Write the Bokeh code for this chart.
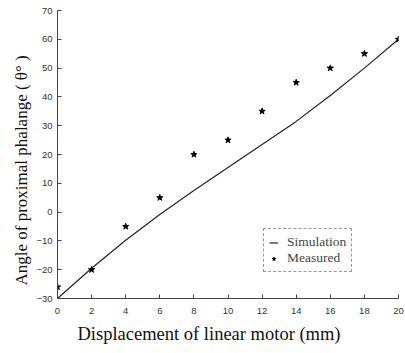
from bokeh.plotting import figure
from bokeh.models import Range1d, FixedTicker, Legend, LegendItem, ColumnDataSource, Title
from bokeh.embed import file_html
from bokeh.resources import INLINE

# Data
displacement = [0, 2, 4, 6, 8, 10, 12, 14, 16, 18, 20]
simulation = [-30, -19.5, -9.8, -0.8, 7.5, 15.5, 23.5, 31.5, 40.5, 50, 60]
measured = [-26, -20, -5, 5, 20, 25, 35, 45, 50, 55, 60]
x_ticks = [0, 2, 4, 6, 8, 10, 12, 14, 16, 18, 20]
y_ticks = [-30, -20, -10, 0, 10, 20, 30, 40, 50, 60, 70]
x_title = "Displacement of linear motor (mm)"
y_title = "Angle of proximal phalange ( θ° )"

src = ColumnDataSource(dict(x=displacement, sim=simulation, meas=measured))

p = figure(width=405, height=353, output_backend="svg", toolbar_location=None,
           x_range=Range1d(0, 20), y_range=Range1d(-30, 70),
           min_border_left=57, min_border_right=7, min_border_top=10, min_border_bottom=55)
p.outline_line_color = None
p.grid.visible = False
p.background_fill_color = "white"

r_sim = p.line("x", "sim", source=src, line_color="#222222", line_width=1.2)
r_meas = p.scatter("x", "meas", source=src, marker="star", size=6.5,
                   fill_color="black", line_color="black")

for ax in (p.xaxis[0], p.yaxis[0]):
    ax.axis_line_color = "#444444"
    ax.axis_line_width = 1
    ax.major_tick_in = 4
    ax.major_tick_out = 0
    ax.minor_tick_in = 0
    ax.minor_tick_out = 0
    ax.major_tick_line_color = "#444444"
    ax.major_label_text_font = "Liberation Sans"
    ax.major_label_text_font_size = "9.5px"
    ax.major_label_text_color = "#333333"
    ax.major_label_standoff = 5
p.xaxis.major_label_standoff = 9

p.xaxis.ticker = FixedTicker(ticks=x_ticks)
p.yaxis.ticker = FixedTicker(ticks=y_ticks)

# axis titles as side titles (so they can be offset like in the reference)
p.add_layout(Title(text=x_title, align="left", offset=20, standoff=10,
                   text_font="Liberation Serif", text_font_style="normal",
                   text_font_size="18.5px", text_color="#111111"), "below")
p.add_layout(Title(text=y_title, align="left", offset=13, standoff=6,
                   text_font="Liberation Serif", text_font_style="normal",
                   text_font_size="17px", text_color="#111111"), "left")

legend = Legend(items=[LegendItem(label="Simulation", renderers=[r_sim]),
                       LegendItem(label="Measured", renderers=[r_meas])],
                location=(206, 26))
legend.label_text_font = "Liberation Serif"
legend.label_text_font_size = "13.5px"
legend.label_height = 11
legend.glyph_height = 11
legend.glyph_width = 9
legend.spacing = -5
legend.padding = 5
legend.margin = 0
legend.label_standoff = 9
legend.border_line_color = "#333333"
legend.border_line_dash = "2 1"
legend.background_fill_alpha = 1
p.add_layout(legend, "center")

open("out.html", "w").write(file_html(p, INLINE))
